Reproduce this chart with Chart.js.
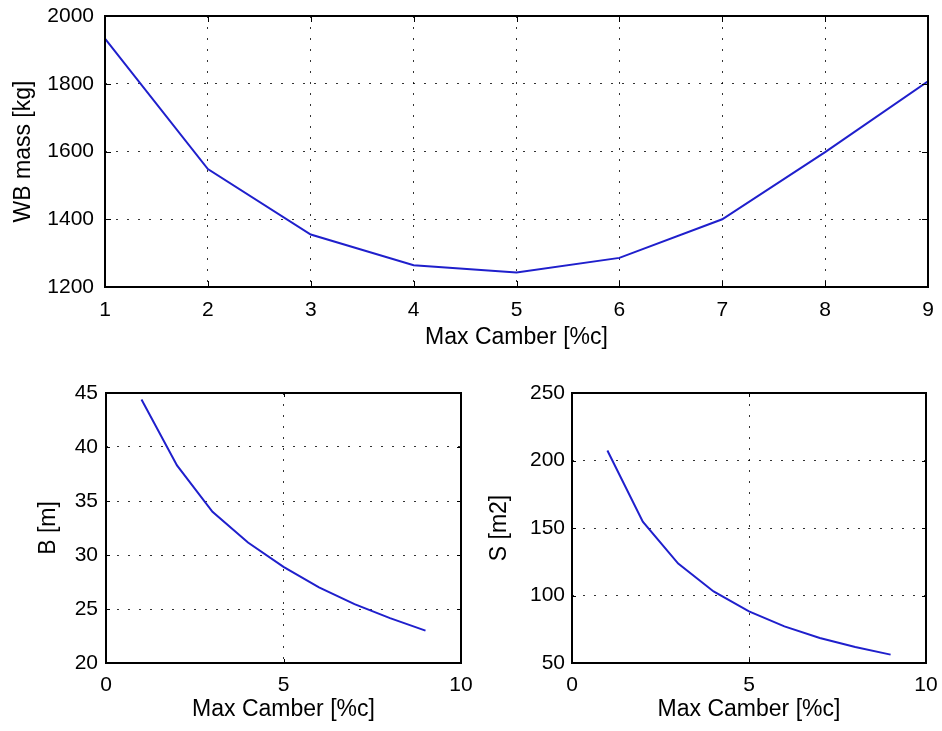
<!DOCTYPE html>
<html>
<head>
<meta charset="utf-8">
<script src="https://cdn.jsdelivr.net/npm/chart.js@4/dist/chart.umd.min.js"></script>
<style>
  html, body { margin: 0; padding: 0; background: #fff; }
  .box { position: absolute; }
</style>
</head>
<body>
<div class="box" style="left:0;top:0;width:942px;height:360px"><canvas id="c1" width="942" height="360"></canvas></div>
<div class="box" style="left:471px;top:360px;width:471px;height:371px"><canvas id="c3" width="471" height="371"></canvas></div>
<div class="box" style="left:0;top:360px;width:490px;height:371px"><canvas id="c2" width="490" height="371"></canvas></div>
<script>
// ---- data ----
const camber = [1, 2, 3, 4, 5, 6, 7, 8, 9];                               // Max Camber [%c]
const wbMass = [1933, 1548, 1355, 1264, 1243, 1286, 1400, 1598, 1807];    // WB mass [kg]
const spanB  = [44.4, 38.3, 34.0, 31.15, 28.9, 27.0, 25.45, 24.15, 23.0]; // B [m]
const areaS  = [207.4, 154.7, 123.6, 103.0, 88.2, 77.1, 68.5, 61.8, 56.2]; // S [m2]

const xTitle = 'Max Camber [%c]';
const yTitles = ['WB mass [kg]', 'B [m]', 'S [m2]'];

Chart.defaults.font.family = "'Liberation Sans', Arial, Helvetica, sans-serif";
Chart.defaults.font.size = 21;
Chart.defaults.color = '#000';

const LINE = '#1f1fcc';
const TITLE_FONT = { size: 23 };

const framePlugin = {
  id: 'frame',
  afterDraw(chart, args, opts) {
    const {ctx, chartArea: a, scales} = chart;
    const L = opts.tick || 6;
    ctx.save();
    ctx.strokeStyle = '#000';
    ctx.lineWidth = 1;
    ctx.beginPath();
    scales.x.ticks.forEach(t => {
      const px = Math.round(scales.x.getPixelForValue(t.value)) + 0.5;
      ctx.moveTo(px, a.bottom); ctx.lineTo(px, a.bottom - L);
      ctx.moveTo(px, a.top); ctx.lineTo(px, a.top + L);
    });
    scales.y.ticks.forEach(t => {
      const py = Math.round(scales.y.getPixelForValue(t.value)) + 0.5;
      ctx.moveTo(a.left, py); ctx.lineTo(a.left + L, py);
      ctx.moveTo(a.right, py); ctx.lineTo(a.right - L, py);
    });
    ctx.stroke();
    ctx.lineWidth = 2;
    ctx.strokeRect(a.left, a.top, a.right - a.left, a.bottom - a.top);
    ctx.restore();
  }
};

function makeChart(id, ys, cfg) {
  const pts = camber.map((x, i) => ({x: x, y: ys[i]}));
  return new Chart(document.getElementById(id), {
    type: 'line',
    data: { datasets: [{ data: pts, borderColor: LINE, borderWidth: 2, pointRadius: 0, tension: 0, fill: false }] },
    plugins: [framePlugin],
    options: {
      responsive: false,
      animation: false,
      events: [],
      layout: { padding: cfg.padding },
      plugins: { legend: { display: false }, tooltip: { enabled: false }, frame: { tick: cfg.tick } },
      scales: {
        x: {
          type: 'linear', min: cfg.xmin, max: cfg.xmax,
          ticks: { stepSize: cfg.xstep, padding: cfg.xTickPad, maxRotation: 0, autoSkip: false, callback: v => String(v) },
          grid: { color: 'rgba(0,0,0,0.8)', lineWidth: 1, drawTicks: false },
          border: { display: false, dash: [2, 9] },
          title: { display: true, text: xTitle, font: TITLE_FONT, padding: { top: 0, bottom: cfg.xTitlePad } },
          afterFit(s) { s.height = cfg.xH; s.paddingLeft = 0; s.paddingRight = 0; }
        },
        y: {
          type: 'linear', min: cfg.ymin, max: cfg.ymax,
          ticks: { stepSize: cfg.ystep, padding: cfg.yTickPad, autoSkip: false, callback: v => String(v) },
          grid: { color: 'rgba(0,0,0,0.8)', lineWidth: 1, drawTicks: false },
          border: { display: false, dash: [2, 9] },
          title: { display: true, text: cfg.yTitle, font: TITLE_FONT, padding: { top: cfg.yTitlePad, bottom: 0 } },
          afterFit(s) { s.width = cfg.yW; s.paddingTop = 0; s.paddingBottom = 0; }
        }
      }
    }
  });
}

makeChart('c1', wbMass, {
  padding: { top: 16, right: 14, left: 0, bottom: 0 },
  xmin: 1, xmax: 9, xstep: 1, ymin: 1200, ymax: 2000, ystep: 200,
  xH: 73, yW: 105, xTickPad: 11, yTickPad: 11, xTitlePad: 9, yTitlePad: 10,
  yTitle: yTitles[0], tick: 6
});
makeChart('c3', areaS, {
  padding: { top: 33, right: 16, left: 0, bottom: 0 },
  xmin: 0, xmax: 10, xstep: 5, ymin: 50, ymax: 250, ystep: 50,
  xH: 68, yW: 101, xTickPad: 10, yTickPad: 7, xTitlePad: 8, yTitlePad: 15,
  yTitle: yTitles[2], tick: 4
});
makeChart('c2', spanB, {
  padding: { top: 33, right: 29, left: 0, bottom: 0 },
  xmin: 0, xmax: 10, xstep: 5, ymin: 20, ymax: 45, ystep: 5,
  xH: 68, yW: 106, xTickPad: 10, yTickPad: 8, xTitlePad: 8, yTitlePad: 35,
  yTitle: yTitles[1], tick: 4
});
</script>
</body>
</html>
